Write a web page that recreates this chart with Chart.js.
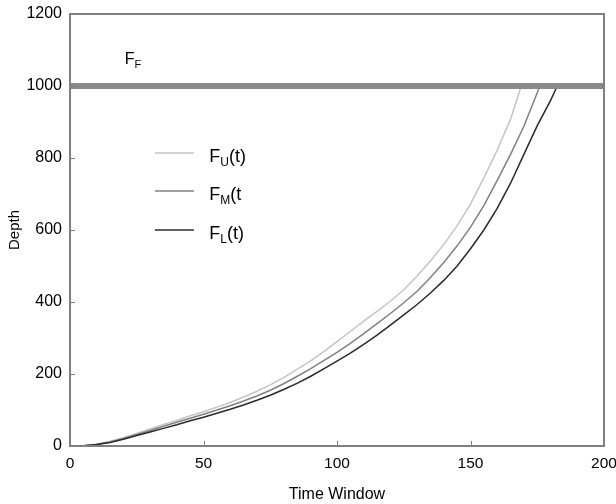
<!DOCTYPE html>
<html>
<head>
<meta charset="utf-8">
<script src="https://cdn.jsdelivr.net/npm/chart.js@4.4.0/dist/chart.umd.min.js"></script>
<style>
  body { margin: 0; background: #fff; }
  #wrap { width: 616px; height: 504px; position: relative; }
</style>
</head>
<body>
<div id="wrap"><canvas id="myChart"></canvas></div>
<script>
// values
const upperTime  = [0,5,10,15,20,25,30,35,40,45,50,55,60,65,70,75,80,85,90,95,100,105,110,115,120,125,130,135,140,145,150,155,160,165,169];
const upperDepth = [0,1,5,13,23,35,47,60,71,84,95,108,121,136,152,170,190,213,236,262,290,318,347,374,402,434,472,514,560,612,672,745,822,908,1000];

const middleTime  = [0,5,10,15,20,25,30,35,40,45,50,55,60,65,70,75,80,85,90,95,100,105,110,115,120,125,130,135,140,145,150,155,160,165,170,176];
const middleDepth = [0,1,4,11,21,32,43,55,66,77,88,100,112,125,139,155,173,193,214,237,260,285,312,340,368,398,430,468,510,556,608,668,738,810,888,1000];

const lowerTime  = [0,5,10,15,20,25,30,35,40,45,50,55,60,65,70,75,80,85,90,95,100,105,110,115,120,125,130,135,140,145,150,155,160,165,170,175,180,182.5];
const lowerDepth = [0,1,4,10,19,29,39,49,59,70,80,91,102,114,127,141,157,174,193,214,236,258,282,308,336,364,393,425,460,500,548,600,660,730,810,890,960,1000];

const floorTime  = [0, 200];
const floorDepth = [1000, 1000];

const xTicks = [0, 50, 100, 150, 200];
const yTicks = [0, 200, 400, 600, 800, 1000, 1200];

function toPoints(ts, ds) {
  return ts.map((t, i) => ({ x: t, y: ds[i] }));
}

// black dot where a curve meets the F_F line
function endDot(n) {
  return ctx => ctx.dataIndex === n - 1 ? 1.6 : 0;
}

const data = {
  datasets: [
    {
      label: "F_F",
      data: toPoints(floorTime, floorDepth),
      borderColor: "#8a8a8a",
      borderWidth: 6,
      pointRadius: ctx => ctx.dataIndex === 1 ? 1.5 : 0,
      pointBackgroundColor: "#e03030",
      pointBorderWidth: 0,
      order: 0
    },
    {
      label: "F_U(t)",
      data: toPoints(upperTime, upperDepth),
      borderColor: "#c4c4c4",
      borderWidth: 1.5,
      pointRadius: endDot(upperTime.length),
      pointBackgroundColor: "#000",
      pointBorderWidth: 0,
      order: 3
    },
    {
      label: "F_M(t",
      data: toPoints(middleTime, middleDepth),
      borderColor: "#808080",
      borderWidth: 1.5,
      pointRadius: endDot(middleTime.length),
      pointBackgroundColor: "#000",
      pointBorderWidth: 0,
      order: 2
    },
    {
      label: "F_L(t)",
      data: toPoints(lowerTime, lowerDepth),
      borderColor: "#2a2a2a",
      borderWidth: 1.5,
      pointRadius: endDot(lowerTime.length),
      pointBackgroundColor: "#000",
      pointBorderWidth: 0,
      order: 1
    }
  ]
};

// draws "F" + subscript + tail
function subText(c, x, y, main, sub, tail, size, subSize) {
  c.font = size + "px 'Liberation Sans', Arial, sans-serif";
  c.fillText(main, x, y);
  x += c.measureText(main).width;
  c.font = subSize + "px 'Liberation Sans', Arial, sans-serif";
  c.fillText(sub, x, y + 4);
  x += c.measureText(sub).width;
  if (tail) {
    c.font = size + "px 'Liberation Sans', Arial, sans-serif";
    c.fillText(tail, x, y);
  }
}

const boxPlugin = {
  id: "box",
  afterDatasetsDraw(chart) {
    const c = chart.ctx;
    const a = chart.chartArea;
    const xs = chart.scales.x, ys = chart.scales.y;
    c.save();
    c.strokeStyle = "#808080";
    c.lineWidth = 2;
    c.strokeRect(a.left, a.top, a.right - a.left, a.bottom - a.top);
    c.lineWidth = 1;
    c.beginPath();
    xTicks.forEach(v => {
      const px = Math.round(xs.getPixelForValue(v)) + 0.5;
      c.moveTo(px, a.bottom); c.lineTo(px, a.bottom - 5);
    });
    yTicks.forEach(v => {
      const py = Math.round(ys.getPixelForValue(v)) + 0.5;
      c.moveTo(a.left, py); c.lineTo(a.left + 5, py);
    });
    c.stroke();

    // legend, placed inside the axes
    const items = [
      { sub: "U", tail: "(t)", color: "#c4c4c4", depth: 814 },
      { sub: "M", tail: "(t", color: "#808080", depth: 708 },
      { sub: "L", tail: "(t)", color: "#2a2a2a", depth: 600 }
    ];
    c.fillStyle = "#000";
    c.textBaseline = "alphabetic";
    items.forEach(it => {
      const py = ys.getPixelForValue(it.depth);
      c.strokeStyle = it.color;
      c.lineWidth = 1.5;
      c.beginPath();
      c.moveTo(xs.getPixelForValue(31.8), py);
      c.lineTo(xs.getPixelForValue(46.4), py);
      c.stroke();
      subText(c, xs.getPixelForValue(52.2), py + 9, "F", it.sub, it.tail, 18, 12);
    });

    // F_F label
    subText(c, xs.getPixelForValue(20.5), ys.getPixelForValue(1060), "F", "F", "", 16, 11);
    c.restore();
  }
};

const config = {
  type: "line",
  data: data,
  options: {
    responsive: true,
    maintainAspectRatio: false,
    animation: false,
    layout: { padding: { top: 14, right: 12, left: 0, bottom: 0 } },
    plugins: {
      legend: { display: false },
      tooltip: { enabled: false }
    },
    elements: { line: { tension: 0 } },
    scales: {
      x: {
        type: "linear",
        min: 0,
        max: 200,
        afterBuildTicks: s => { s.ticks = xTicks.map(v => ({ value: v })); },
        grid: { display: false, drawTicks: false },
        border: { display: false },
        ticks: {
          color: "#000",
          font: { family: "'Liberation Sans', Arial, sans-serif", size: 15.5 },
          padding: 8,
          maxRotation: 0,
          autoSkip: false,
          callback: v => String(v)
        },
        title: {
          display: true,
          text: "Time Window",
          color: "#000",
          font: { family: "'Liberation Sans', Arial, sans-serif", size: 16 },
          padding: { top: 4, bottom: 0 }
        },
        afterFit: s => { s.height = 58; s.paddingLeft = 0; s.paddingRight = 0; }
      },
      y: {
        type: "linear",
        min: 0,
        max: 1200,
        afterBuildTicks: s => { s.ticks = yTicks.map(v => ({ value: v })); },
        grid: { display: false, drawTicks: false },
        border: { display: false },
        ticks: {
          color: "#000",
          font: { family: "'Liberation Sans', Arial, sans-serif", size: 16 },
          padding: 8,
          callback: v => String(v)
        },
        title: {
          display: true,
          text: "Depth",
          color: "#000",
          font: { family: "'Liberation Sans', Arial, sans-serif", size: 15 },
          padding: { top: 6, bottom: 0 }
        },
        afterFit: s => { s.width = 70; s.paddingTop = 0; s.paddingBottom = 0; }
      }
    }
  },
  plugins: [boxPlugin]
};

const context = document.getElementById("myChart").getContext("2d");
const chart = new Chart(context, config);
</script>
</body>
</html>
